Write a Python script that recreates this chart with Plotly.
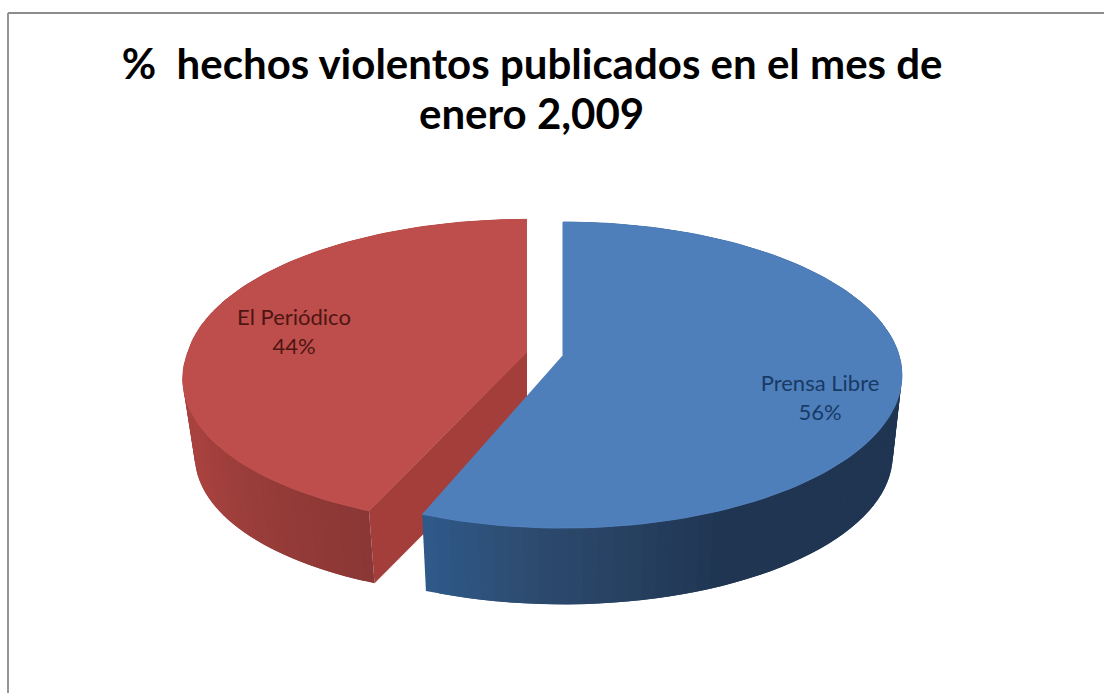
import math
import plotly.graph_objects as go

categories = ["Prensa Libre", "El Periódico"]
values = [56, 44]
title_lines = ["%  hechos violentos publicados en el mes de", "enero 2,009"]

W, H = 1104, 693
K = 0.131          # perspective strength
STRIPS = 90


def lerp_hex(stops, t):
    for (t0, c0), (t1, c1) in zip(stops, stops[1:]):
        if t <= t1:
            f = 0 if t1 == t0 else max(0, (t - t0) / (t1 - t0))
            return "#" + "".join(
                f"{round(int(c0[i:i+2], 16) + f * (int(c1[i:i+2], 16) - int(c0[i:i+2], 16))):02x}"
                for i in (1, 3, 5))
    return stops[-1][1]


class Slice:
    def __init__(self, cx, cy, ax, ay, sh, depth, z):
        self.cx, self.cy, self.ax, self.ay, self.sh, self.depth, self.z = cx, cy, ax, ay, sh, depth, z

    def top(self, theta, r=1.0):
        u, v = r * math.sin(theta), r * math.cos(theta)
        s = 1 / (1 + K * v)
        X, Y = self.ax * u * s, -self.ay * v * s
        X += self.sh * max(Y, 0)
        return X, Y

    def pt(self, theta, level=0, r=1.0):
        X, Y = self.top(theta, r)
        if level:
            return self.cx + X * self.z, self.cy + Y * self.z + self.depth
        return self.cx + X, self.cy + Y


shares = [v / sum(values) * 2 * math.pi for v in values]
blue_a0, blue_a1 = 0.0, shares[0]
red_a0, red_a1 = shares[0], shares[0] + shares[1]

blue = Slice(563, 355, 336, 150.4, 0.0, 81, 0.973)
red = Slice(527, 352, 339, 150.0, -0.10, 78, 0.965)

fig = go.Figure()


def poly(xs, ys, color, width=0):
    fig.add_trace(go.Scatter(x=xs, y=ys, mode="lines", fill="toself", fillcolor=color,
                             line=dict(color=color, width=width), hoverinfo="skip", showlegend=False))


def draw(sl, a0, a1, top_color, stops, reverse):
    # strips overlap the next one, so no background bleeds through their joins
    order = range(STRIPS - 1, -1, -1) if reverse else range(STRIPS)
    step = (a1 - a0) / STRIPS
    for i in order:
        t0 = a0 + step * i
        t1 = t0 + step
        if reverse:
            t0 = max(a0, t0 - step)
        else:
            t1 = min(a1, t1 + step)
        mid = a0 + step * (i + 0.5)
        p = [sl.pt(t0), sl.pt(t1), sl.pt(t1, 1), sl.pt(t0, 1)]
        poly([q[0] for q in p], [q[1] for q in p], lerp_hex(stops, math.degrees(mid)))
    n = 120
    arc = [sl.pt(a0 + (a1 - a0) * i / n) for i in range(n + 1)]
    poly([sl.cx] + [q[0] for q in arc], [sl.cy] + [q[1] for q in arc], top_color, 1)


# red slice: inner cut face first, outer wall and top over it
tip_t, tip_b = red.pt(red_a0), red.pt(red_a0, 1)
poly([red.cx, tip_t[0], tip_b[0], red.cx],
     [red.cy, tip_t[1], tip_b[1], red.cy + red.depth], "#a43e3a")
draw(red, red_a0, red_a1, "#bd4e4b",
     [(0, "#8a3735"), (201.6, "#8a3735"), (221, "#963c39"), (245, "#a8423f"), (360, "#a8423f")], False)

# blue slice
draw(blue, blue_a0, blue_a1, "#4f7fbb",
     [(0, "#1f3552"), (155, "#1f3552"), (168, "#263f5f"), (184, "#2c4a6e"), (201.6, "#2f5a8a"), (360, "#2f5a8a")], True)

# labels
label_font = dict(family="Lato, Open Sans, sans-serif", size=22)
fig.add_trace(go.Scatter(x=[820], y=[400], mode="text",
                         text=[f"{categories[0]}<br>{values[0]}%"],
                         textfont=dict(color="#173a66", **label_font),
                         hoverinfo="skip", showlegend=False))
fig.add_trace(go.Scatter(x=[294], y=[334], mode="text",
                         text=[f"{categories[1]}<br>{values[1]}%"],
                         textfont=dict(color="#4f1513", **label_font),
                         hoverinfo="skip", showlegend=False))

title_font = dict(family="Lato, Open Sans, sans-serif", size=42, color="black", weight="bold")
fig.update_layout(
    width=W, height=H, margin=dict(l=0, r=0, t=0, b=0),
    paper_bgcolor="white", plot_bgcolor="white", showlegend=False,
    xaxis=dict(range=[0, W], visible=False, fixedrange=True),
    yaxis=dict(range=[H, 0], visible=False, fixedrange=True),
    title=dict(text=title_lines[0], x=0.482, xanchor="center", y=0.929, yanchor="top", font=title_font),
    annotations=[dict(text=title_lines[1], xref="x", yref="y", x=531, y=113, showarrow=False,
                      xanchor="center", yanchor="middle", font=title_font)],
    shapes=[dict(type="line", xref="x", yref="y", x0=8, x1=8, y0=H, y1=13,
                 line=dict(color="#969696", width=2)),
            dict(type="line", xref="x", yref="y", x0=8, x1=W, y0=13, y1=13,
                 line=dict(color="#8c8c8c", width=2))],
)
fig.write_html("out.html", config=dict(displayModeBar=False),
               post_script="document.body.style.margin='0';")
